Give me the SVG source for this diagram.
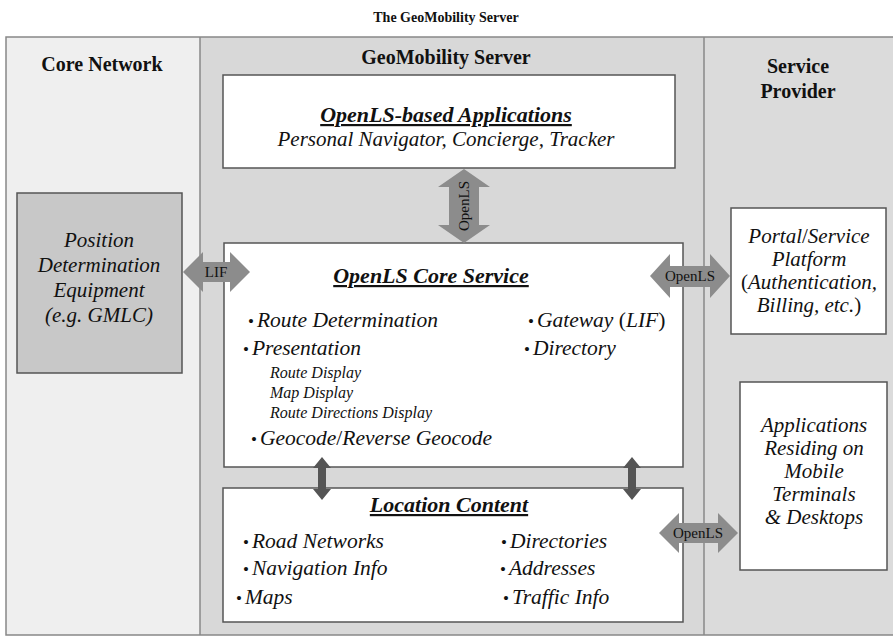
<svg xmlns="http://www.w3.org/2000/svg" width="893" height="636" viewBox="0 0 893 636">
<style>
.hdr{font-family:"Liberation Serif",serif;font-weight:bold;font-size:20px;fill:#111;text-anchor:middle}
.ttl{font-family:"Liberation Serif",serif;font-weight:bold;font-style:italic;font-size:22px;fill:#111;text-anchor:middle;text-decoration:underline}
.it{font-family:"Liberation Serif",serif;font-style:italic;font-size:21.5px;fill:#111}
.itc{font-family:"Liberation Serif",serif;font-style:italic;font-size:21px;fill:#111;text-anchor:middle}
.sm{font-family:"Liberation Serif",serif;font-style:italic;font-size:16px;fill:#111}
.up{font-style:normal}
.b{font-style:normal;font-size:17px}
.lbl{font-family:"Liberation Serif",serif;font-size:15px;fill:#111;text-anchor:middle}
.box{fill:#fff;stroke:#555;stroke-width:1.5}
.big{fill:#8c8c8c}
.dk{fill:#555}
</style>
<g id="background">
<rect x="6" y="37" width="194" height="598" fill="#efefef"/>
<rect x="200" y="37" width="504" height="598" fill="#d8d8d8"/>
<rect x="704" y="37" width="189" height="598" fill="#dbdbdb"/>
<path d="M893 37H6V635H893" fill="none" stroke="#888" stroke-width="1.5"/>
<line x1="200" y1="37" x2="200" y2="635" stroke="#888" stroke-width="1.5"/>
<line x1="704" y1="37" x2="704" y2="635" stroke="#888" stroke-width="1.5"/>
</g>
<text class="hdr" x="446" y="22" style="font-size:14px">The GeoMobility Server</text>
<text class="hdr" x="102" y="71">Core Network</text>
<text class="hdr" x="446" y="64">GeoMobility Server</text>
<text class="hdr" x="798" y="73">Service</text>
<text class="hdr" x="798" y="98">Provider</text>

<g id="apps">
<rect class="box" x="223" y="75" width="452" height="93"/>
<text class="ttl" x="446" y="122">OpenLS-based Applications</text>
<text class="itc" x="446" y="146">Personal Navigator, Concierge, Tracker</text>
</g>

<g id="pde">
<rect x="17" y="193" width="165" height="180" fill="#c8c8c8" stroke="#555" stroke-width="1.5"/>
<text class="itc" x="99" y="247">Position</text>
<text class="itc" x="99" y="272">Determination</text>
<text class="itc" x="99" y="297">Equipment</text>
<text class="itc" x="99" y="322">(e.g. GMLC)</text>
</g>

<g id="core">
<rect class="box" x="224" y="243" width="459" height="224"/>
<text class="ttl" x="431" y="283">OpenLS Core Service</text>
<text class="it" x="248" y="327"><tspan class="b">•</tspan><tspan dx="3">Route Determination</tspan></text>
<text class="it" x="243" y="355"><tspan class="b">•</tspan><tspan dx="3">Presentation</tspan></text>
<text class="sm" x="270" y="378">Route Display</text>
<text class="sm" x="270" y="398">Map Display</text>
<text class="sm" x="270" y="418">Route Directions Display</text>
<text class="it" x="251" y="445"><tspan class="b">•</tspan><tspan dx="3">Geocode</tspan><tspan class="up">/</tspan>Reverse Geocode</text>
<text class="it" x="528" y="327"><tspan class="b">•</tspan><tspan dx="3">Gateway </tspan><tspan class="up">(</tspan>LIF<tspan class="up">)</tspan></text>
<text class="it" x="524" y="355"><tspan class="b">•</tspan><tspan dx="3">Directory</tspan></text>
</g>

<g id="location">
<rect class="box" x="223" y="488" width="460" height="134"/>
<text class="ttl" x="449" y="512">Location Content</text>
<text class="it" x="243" y="548"><tspan class="b">•</tspan><tspan dx="3">Road Networks</tspan></text>
<text class="it" x="243" y="575"><tspan class="b">•</tspan><tspan dx="3">Navigation Info</tspan></text>
<text class="it" x="236" y="604"><tspan class="b">•</tspan><tspan dx="3">Maps</tspan></text>
<text class="it" x="501" y="548"><tspan class="b">•</tspan><tspan dx="3">Directories</tspan></text>
<text class="it" x="500" y="575"><tspan class="b">•</tspan><tspan dx="3">Addresses</tspan></text>
<text class="it" x="503" y="604"><tspan class="b">•</tspan><tspan dx="3">Traffic Info</tspan></text>
</g>

<g id="portal">
<rect class="box" x="731" y="208" width="155" height="126"/>
<text class="itc" x="809" y="243">Portal<tspan class="up">/</tspan>Service</text>
<text class="itc" x="809" y="266">Platform</text>
<text class="itc" x="809" y="289"><tspan class="up">(</tspan>Authentication,</text>
<text class="itc" x="809" y="312">Billing, etc.<tspan class="up">)</tspan></text>
</g>

<g id="mobile">
<rect class="box" x="740" y="382" width="147" height="188"/>
<text class="itc" x="814" y="432">Applications</text>
<text class="itc" x="814" y="455">Residing on</text>
<text class="itc" x="814" y="478">Mobile</text>
<text class="itc" x="814" y="501">Terminals</text>
<text class="itc" x="814" y="524">&amp; Desktops</text>
</g>

<g id="connectors">
<path class="big" d="M464 169L490 187H479V225H490L464 243L438 225H449V187H438Z"/>
<text class="lbl" transform="translate(469 206) rotate(-90)">OpenLS</text>
<path class="big" d="M183 272L203 252V262H230V252L250 272L230 292V282H203V292Z"/>
<text class="lbl" x="216" y="277">LIF</text>
<path class="big" d="M650 276L670 254V266H710V254L730 276L710 298V287H670V298Z"/>
<text class="lbl" x="690" y="281">OpenLS</text>
<path class="big" d="M659 533L679 513V523H718V513L738 533L718 553V543H679V553Z"/>
<text class="lbl" x="698" y="538">OpenLS</text>
<path class="dk" d="M322 457L331 468H326V489H331L322 500L313 489H318V468H313Z"/>
<path class="dk" d="M632 457L641 468H636V489H641L632 500L623 489H628V468H623Z"/>
</g>
</svg>
